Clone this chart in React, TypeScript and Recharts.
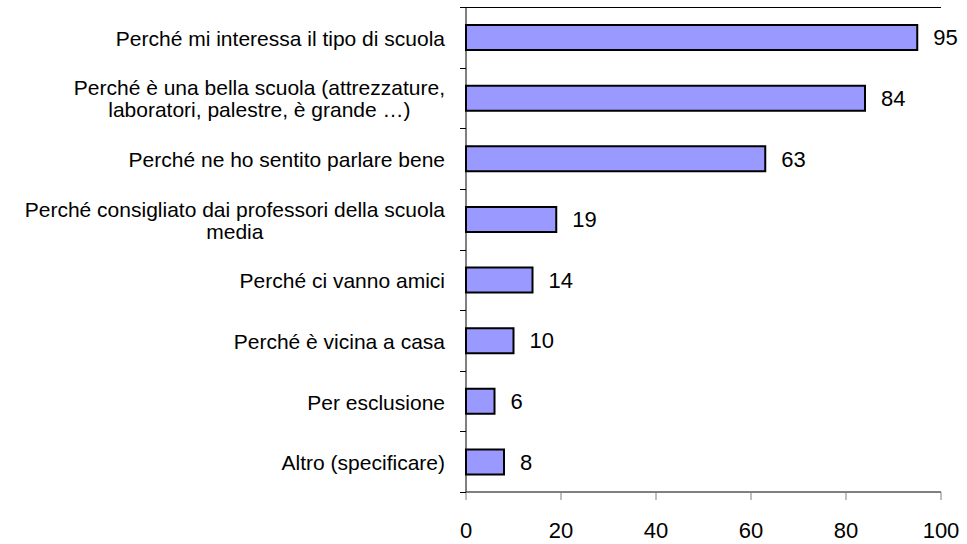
import React from "react";
import { Bar, BarChart, LabelList, XAxis, YAxis } from "recharts";

const categories = [
  "Perché mi interessa il tipo di scuola",
  "Perché è una bella scuola (attrezzature,\nlaboratori, palestre, è grande …)",
  "Perché ne ho sentito parlare bene",
  "Perché consigliato dai professori della scuola\nmedia",
  "Perché ci vanno amici",
  "Perché è vicina a casa",
  "Per esclusione",
  "Altro (specificare)",
];
const values = [95, 84, 63, 19, 14, 10, 6, 8];
const xTicks = [0, 20, 40, 60, 80, 100];

const data = categories.map((name, i) => ({ name, value: values[i] }));

const W = 967;
const H = 544;
const AXIS_X = 466;
const TOP = 7;
const RIGHT = 941;
const X_AXIS_H = 52;
const BAND = (H - TOP - X_AXIS_H) / categories.length;
const FONT = "Arial, 'Liberation Sans', sans-serif";
const LABEL_SIZE = 21;

let ctx: CanvasRenderingContext2D | null = null;
function measure(s: string) {
  if (!ctx) ctx = document.createElement("canvas").getContext("2d");
  if (!ctx) return s.length * LABEL_SIZE * 0.5;
  ctx.font = `${LABEL_SIZE}px ${FONT}`;
  return ctx.measureText(s).width;
}

// snap a horizontal 1px line to the pixel grid
const crisp = (v: number) => Math.round(v) + 0.5;

// category label (centred block, right-aligned to the axis) + boundary ticks;
// the first boundary tick runs across as the plot's top border
function CategoryTick(props: any) {
  const { y, payload, index } = props;
  const lines = String(payload.value).split("\n");
  const maxW = Math.max(...lines.map(measure));
  const cx = AXIS_X - 21 - maxW / 2;
  const lh = 22;
  const y0 = y - ((lines.length - 1) * lh) / 2;
  return (
    <g>
      <line
        x1={AXIS_X - 6}
        x2={index === 0 ? RIGHT : AXIS_X}
        y1={crisp(y - BAND / 2)}
        y2={crisp(y - BAND / 2)}
        stroke="#000"
      />
      {index === categories.length - 1 && (
        <line x1={AXIS_X - 6} x2={AXIS_X} y1={crisp(y + BAND / 2)} y2={crisp(y + BAND / 2)} stroke="#000" />
      )}
      {lines.map((l, i) => (
        <text key={i} x={cx} y={y0 + i * lh + 1} dy="0.355em" textAnchor="middle" fontSize={LABEL_SIZE} fontFamily={FONT} fill="#000">
          {l}
        </text>
      ))}
    </g>
  );
}

export default function App() {
  return (
    <div style={{ position: "absolute", left: 0, top: 0, background: "#fff" }}>
      <BarChart
        width={W}
        height={H}
        data={data}
        layout="vertical"
        margin={{ top: TOP, right: W - RIGHT, bottom: 0, left: 0 }}
      >
        <XAxis
          type="number"
          domain={[0, 100]}
          ticks={xTicks}
          interval={0}
          height={X_AXIS_H}
          tickSize={8}
          tickMargin={22}
          axisLine={{ stroke: "#000" }}
          tickLine={{ stroke: "#808080" }}
          tick={{ fill: "#000", fontSize: 22, fontFamily: FONT }}
        />
        <YAxis
          type="category"
          dataKey="name"
          width={AXIS_X}
          interval={0}
          tickLine={false}
          axisLine={{ stroke: "#000" }}
          tick={<CategoryTick />}
        />
        <YAxis
          yAxisId="right"
          orientation="right"
          type="category"
          dataKey="name"
          width={0}
          tick={false}
          tickLine={false}
          axisLine={{ stroke: "#808080" }}
        />
        <Bar dataKey="value" fill="#9999FF" stroke="#000" strokeWidth={2} barSize={25} isAnimationActive={false}>
          <LabelList dataKey="value" position="right" offset={16} fill="#000" fontSize={22} fontFamily={FONT} />
        </Bar>
      </BarChart>
    </div>
  );
}
